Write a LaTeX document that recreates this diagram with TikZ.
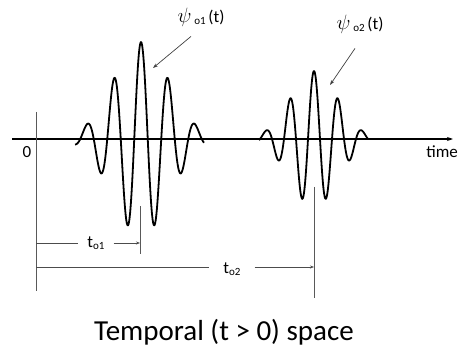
\documentclass[tikz,border=0pt]{standalone}
\usepackage{fontspec}
\setmainfont{Carlito}
\usetikzlibrary{arrows.meta}

\tikzset{
  wave/.style={line width=1.8pt, line join=round},
  axisline/.style={line width=1.5pt, -{Stealth[length=6pt,width=4pt]}},
  guide/.style={black!65, line width=1pt},
  dimline/.style={black!70, line width=0.9pt},
  pointer/.style={black!75, line width=0.7pt, -{Stealth[length=5pt,width=3.5pt]}},
  lbl/.style={font=\fontsize{17}{17}\selectfont, inner sep=0pt},
}
\newcommand{\subtxt}[1]{\raisebox{-2.5pt}{\fontsize{11}{11}\selectfont #1}}
\newcommand{\psibig}{{\fontsize{21}{21}\selectfont$\psi$}}

\begin{document}
\begin{tikzpicture}[x=1pt,y=-1pt]
\useasboundingbox (0,0) rectangle (458,350);

% ---- time axis ----
\coordinate (axL) at (12,139);
\coordinate (axR) at (453,139);
\draw[axisline] (axL) -- (axR);
\node[lbl,anchor=east] (time) at (458,152) {time};
\node[lbl] (zero) at (27,152) {0};

% ---- the two wave packets ----
\draw[wave] plot[domain=-66:63, samples=220, smooth]
  ({141+\x},{139-97*exp(-(\x/10)*(\x/10)/15.5)*cos(\x*13.333)});
\draw[wave] plot[domain=-55:54, samples=200, smooth]
  ({314+\x},{139-68*exp(-(\x/10)*(\x/10)/11)*cos(\x*15)});

% ---- guide lines ----
\coordinate (g0t) at (36,112);  \coordinate (g0b) at (36,291);
\coordinate (g1t) at (140,206); \coordinate (g1b) at (140,254);
\coordinate (g2t) at (314,187); \coordinate (g2b) at (314,298);
\draw[guide] (g0t) -- (g0b);
\draw[guide] (g1t) -- (g1b);
\draw[guide] (g2t) -- (g2b);

% ---- delays ----
\node[lbl, inner xsep=9pt] (to1) at (96,243) {t\subtxt{o1}};
\draw[dimline] (to1.west -| g0t) -- (to1.west);
\draw[dimline,-{Stealth[length=4pt,width=3pt]}] (to1.east) -- (to1.east -| g1t);

\node[lbl, inner xsep=14pt] (to2) at (232,269) {t\subtxt{o2}};
\coordinate (d2) at (36,267);
\draw[dimline] (d2) -- (d2 -| to2.west);
\draw[dimline,-{Stealth[length=4pt,width=3pt]}] (d2 -| to2.east) -- (d2 -| g2t);

% ---- packet labels ----
\node[lbl] (psi1) at (201,17) {\psibig\,\subtxt{o1}\,(t)};
\node[lbl] (psi2) at (360,24) {\psibig\,\subtxt{o2}\,(t)};
\coordinate (p1) at (153,68);
\coordinate (p2) at (330,85);
\draw[pointer] ([xshift=-10pt,yshift=-10pt]psi1.south) -- (p1);
\draw[pointer] ([xshift=-5pt,yshift=-15pt]psi2.south) -- (p2);

% ---- caption ----
\node[font=\fontsize{29}{29}\selectfont, inner sep=0pt] (cap) at (224,332) {Temporal (t > 0) space};

\end{tikzpicture}
\end{document}
